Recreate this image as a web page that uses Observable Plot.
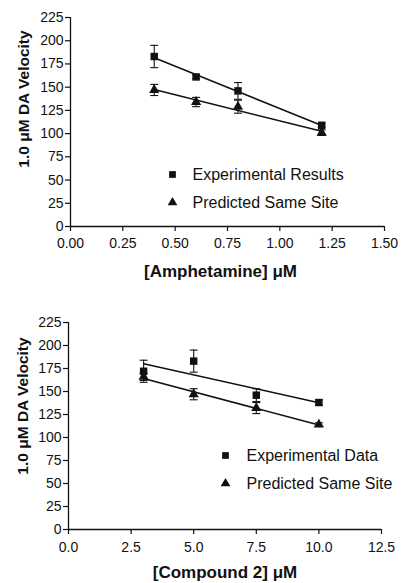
<!DOCTYPE html>
<html><head><meta charset="utf-8">
<script src="https://cdn.jsdelivr.net/npm/d3@7"></script>
<script src="https://cdn.jsdelivr.net/npm/@observablehq/plot@0.6"></script>
<style>body{margin:0;background:#fff;} svg{display:block;}</style>
</head><body><div id="c"></div>
<script>
// ---- data ----
const ampConc = [0.4, 0.6, 0.8, 1.2];
const ampExp = [183, 161, 146, 109];
const ampExpErr = [12, 2, 9, 2];
const ampPred = [147, 134, 129, 101];
const ampPredErr = [6, 5, 7, 3];

const cmpConc = [3, 5, 7.5, 10];
const cmpExp = [172, 183, 146, 138];
const cmpExpErr = [12, 12, 7, 3];
const cmpPred = [166, 147, 132, 114];
const cmpPredErr = [4, 6, 6, 2];

const yTicks = [0, 25, 50, 75, 100, 125, 150, 175, 200, 225];
const ampXTicks = [0, 0.25, 0.5, 0.75, 1.0, 1.25, 1.5];
const cmpXTicks = [0, 2.5, 5, 7.5, 10, 12.5];

const yLabel = "1.0 \u03bcM DA Velocity";
const ampXLabel = "[Amphetamine] \u03bcM";
const cmpXLabel = "[Compound 2] \u03bcM";
const ampLegend = ["Experimental Results", "Predicted Same Site"];
const cmpLegend = ["Experimental Data", "Predicted Same Site"];

// cap symbol for error bars
const cap = {draw(ctx, size) { const w = Math.sqrt(size); ctx.moveTo(-w / 2, 0); ctx.lineTo(w / 2, 0); }};
const INK = "#111";

function rows(xs, ys, es) { return xs.map((x, i) => ({x, y: ys[i], lo: ys[i] - es[i], hi: ys[i] + es[i]})); }

function panel(cfg) {
  const exp = rows(cfg.conc, cfg.exp, cfg.expErr);
  const pred = rows(cfg.conc, cfg.pred, cfg.predErr);
  const errMarks = (d) => [
    Plot.ruleX(d, {x: "x", y1: "lo", y2: "hi", stroke: INK, strokeWidth: 1.1}),
    Plot.dot(d, {x: "x", y: "hi", symbol: cap, r: 4.5, stroke: INK, strokeWidth: 1.1, fill: "none"}),
    Plot.dot(d, {x: "x", y: "lo", symbol: cap, r: 4.5, stroke: INK, strokeWidth: 1.1, fill: "none"})
  ];
  const L = cfg.legend;
  return Plot.plot({
    width: 402, height: cfg.height,
    marginLeft: cfg.ml, marginRight: cfg.mr, marginTop: cfg.mt, marginBottom: cfg.mb,
    style: {fontFamily: "'Liberation Sans', Arial, sans-serif", fontSize: "14px", color: INK, background: "#fff"},
    x: {domain: cfg.xDomain},
    y: {domain: [0, 225]},
    marks: [
      Plot.axisY({ticks: yTicks, tickSize: 5, tickPadding: 2, label: null, fontSize: 14, strokeWidth: 1.2}),
      Plot.axisX({ticks: cfg.xTicks, tickFormat: d3.format(cfg.fmt), tickSize: 5, tickPadding: cfg.tp, label: null, fontSize: 14, strokeWidth: 1.2}),
      Plot.ruleX([0], {stroke: INK, strokeWidth: 1.3}),
      Plot.ruleY([0], {stroke: INK, strokeWidth: 1.3}),
      Plot.linearRegressionY(exp, {x: "x", y: "y", ci: 0, stroke: INK, strokeWidth: 1.5}),
      Plot.linearRegressionY(pred, {x: "x", y: "y", ci: 0, stroke: INK, strokeWidth: 1.5}),
      ...errMarks(exp),
      ...errMarks(pred),
      Plot.dot(exp, {x: "x", y: "y", symbol: "square", r: 4.2, fill: INK, stroke: "none"}),
      Plot.dot(pred, {x: "x", y: "y", symbol: "triangle", r: 3.8, fill: INK, stroke: "none"}),
      // axis titles
      Plot.text([yLabel], {frameAnchor: "left", rotate: -90, dx: cfg.ylx, dy: cfg.yly, textAnchor: "middle", lineAnchor: "middle", fontWeight: "bold", fontSize: 15.5, fill: INK}),
      Plot.text([cfg.xLabel], {frameAnchor: "bottom", dx: cfg.xlx, dy: cfg.xly, textAnchor: "middle", lineAnchor: "middle", fontWeight: "bold", fontSize: 17, fill: INK}),
      // legend
      Plot.dot([L[0]], {frameAnchor: "top-left", dx: cfg.lgx, dy: cfg.lgy, symbol: "square", r: 3.8, fill: INK}),
      Plot.dot([L[1]], {frameAnchor: "top-left", dx: cfg.lgx, dy: cfg.lgy + cfg.lgs, symbol: "triangle", r: 3.6, fill: INK}),
      Plot.text([L[0]], {frameAnchor: "top-left", dx: cfg.lgx + cfg.lgt, dy: cfg.lgy, textAnchor: "start", lineAnchor: "middle", fontSize: 16, fill: INK}),
      Plot.text([L[1]], {frameAnchor: "top-left", dx: cfg.lgx + cfg.lgt, dy: cfg.lgy + cfg.lgs, textAnchor: "start", lineAnchor: "middle", fontSize: 16, fill: INK})
    ]
  });
}

const c = document.getElementById("c");
c.append(panel({
  height: 290, ml: 70, mr: 18, mt: 17, mb: 64,
  xDomain: [0, 1.5], xTicks: ampXTicks, fmt: ".2f", tp: 7,
  conc: ampConc, exp: ampExp, expErr: ampExpErr, pred: ampPred, predErr: ampPredErr,
  xLabel: ampXLabel, ylx: -46, yly: -23, xlx: -7, xly: 45,
  legend: ampLegend, lgx: 102, lgy: 157, lgs: 28, lgt: 20
}));
c.append(panel({
  height: 293, ml: 68, mr: 21, mt: 32, mb: 54,
  xDomain: [0, 12.5], xTicks: cmpXTicks, fmt: ".1f", tp: 8,
  conc: cmpConc, exp: cmpExp, expErr: cmpExpErr, pred: cmpPred, predErr: cmpPredErr,
  xLabel: cmpXLabel, ylx: -45, yly: -20, xlx: 0, xly: 43,
  legend: cmpLegend, lgx: 157, lgy: 133, lgs: 28, lgt: 21
}));
</script>
</body></html>
